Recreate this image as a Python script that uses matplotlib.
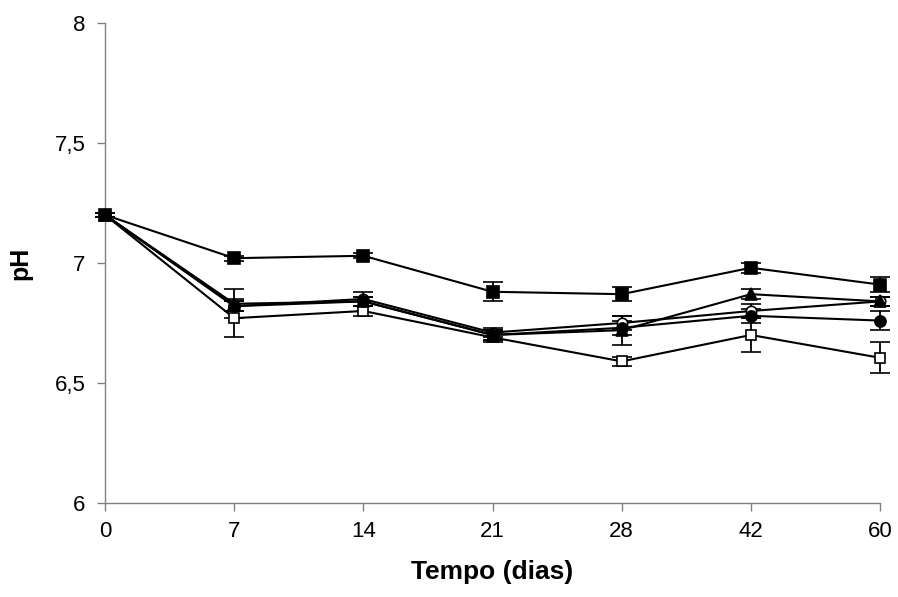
import matplotlib
matplotlib.use("Agg")
import matplotlib.pyplot as plt
import numpy as np

plt.rcParams['font.family'] = ['Liberation Sans', 'DejaVu Sans']

days = ["0", "7", "14", "21", "28", "42", "60"]

sq_filled = [7.20, 7.02, 7.03, 6.88, 6.87, 6.98, 6.91]
sq_filled_err = [0.01, 0.01, 0.01, 0.04, 0.03, 0.02, 0.03]

sq_open = [7.20, 6.77, 6.80, 6.69, 6.59, 6.70, 6.605]
sq_open_err = [0.01, 0.08, 0.02, 0.02, 0.02, 0.07, 0.065]

circ_open = [7.20, 6.82, 6.85, 6.71, 6.75, 6.80, 6.84]
circ_open_err = [0.01, 0.02, 0.03, 0.02, 0.03, 0.03, 0.02]

circ_filled = [7.20, 6.82, 6.84, 6.70, 6.73, 6.78, 6.76]
circ_filled_err = [0.01, 0.02, 0.02, 0.02, 0.03, 0.03, 0.04]

triangle = [7.20, 6.83, 6.84, 6.70, 6.72, 6.87, 6.84]
triangle_err = [0.01, 0.06, 0.02, 0.02, 0.06, 0.02, 0.02]

fig = plt.figure(figsize=(8.98, 5.97), dpi=100)
ax = fig.add_axes([0.117, 0.1575, 0.863, 0.804])

x = np.arange(len(days))
series = [
    (sq_open, sq_open_err, 's', 'white', 7.5),
    (circ_open, circ_open_err, 'o', 'white', 7.5),
    (circ_filled, circ_filled_err, 'o', 'black', 8),
    (triangle, triangle_err, '^', 'black', 9),
    (sq_filled, sq_filled_err, 's', 'black', 8),
]
for vals, err, mk, fc, ms in series:
    ax.errorbar(x, vals, yerr=err, color='black', lw=1.5, marker=mk,
                markersize=ms, markerfacecolor=fc, markeredgecolor='black',
                markeredgewidth=1.2, capsize=7, elinewidth=1.3, capthick=1.3,
                clip_on=False, zorder=3)

ax.set_xlim(0, len(days) - 1)
ax.set_ylim(6, 8)
ax.set_xticks(x)
ax.set_xticklabels(days)
ax.set_yticks([6, 6.5, 7, 7.5, 8])
ax.set_yticklabels(["6", "6,5", "7", "7,5", "8"])
ax.spines['top'].set_visible(False)
ax.spines['right'].set_visible(False)
for s in ('left', 'bottom'):
    ax.spines[s].set_color('#808080')
    ax.spines[s].set_linewidth(1.0)
ax.tick_params(axis='both', direction='out', length=6, color='#808080',
               labelsize=16, width=1.0)
ax.tick_params(axis='y', pad=8)
ax.tick_params(axis='x', pad=7)
ax.set_xlabel("Tempo (dias)", fontsize=19, fontweight='bold', labelpad=13)
ax.set_ylabel("pH", fontsize=18, fontweight='bold', labelpad=16)

fig.savefig("out.png", dpi=100)
